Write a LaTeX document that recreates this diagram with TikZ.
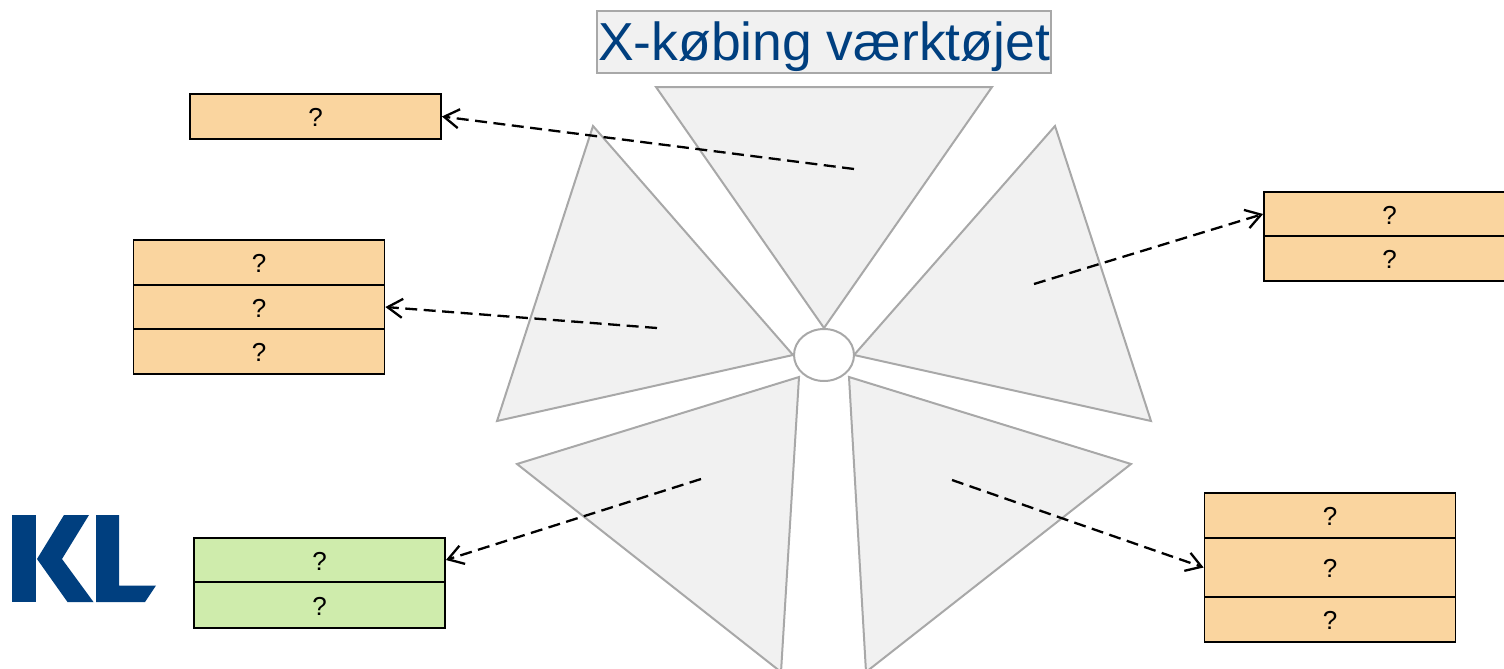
\documentclass[tikz,border=0pt]{standalone}
\usepackage{fontspec}
\setmainfont{Liberation Sans}
\usetikzlibrary{arrows.meta,shapes.geometric}
\definecolor{klblue}{HTML}{003F7F}
\definecolor{bladegray}{HTML}{F1F1F1}
\definecolor{edgegray}{HTML}{A8A8A8}
\definecolor{roworange}{HTML}{FAD59F}
\definecolor{rowgreen}{HTML}{CFECAC}
\newcommand{\qmark}{\raisebox{-10pt}[0pt][0pt]{?}}
\tikzset{
blade/.style={draw=edgegray,fill=bladegray,line width=2pt,line join=miter},
orangerow/.style={draw=black,fill=roworange,line width=1.8pt,minimum width=251,inner sep=0pt,font=\fontsize{26}{28}\selectfont},
greenrow/.style={orangerow,fill=rowgreen},
pointer/.style={draw=black,line width=2.3pt,dash pattern=on 12pt off 6.5pt,-{Straight Barb[length=15pt,width=19pt,line width=2.3pt]}},
}
\begin{document}
\begin{tikzpicture}[x=1pt,y=-1pt]
\useasboundingbox (0,0) rectangle (1504,669);
\path[blade] (656,87) -- (992,87) -- (824,328) -- cycle;
\path[blade] (1055,126) -- (1151,421) -- (854,355) -- cycle;
\path[blade] (593,126) -- (497,421) -- (793,355) -- cycle;
\path[blade] (517,464) -- (799,377) -- (781,672) -- cycle;
\path[blade] (1131,464) -- (849,377) -- (866,672) -- cycle;
\node[draw=edgegray,fill=white,ellipse,line width=2pt,inner sep=0pt,minimum width=60,minimum height=52] (hub) at (824,355) {};
\node[draw=edgegray,fill=bladegray,line width=2pt,inner sep=0pt,minimum width=454,minimum height=62,text=klblue,font=\fontsize{53.5}{56}\selectfont] (title) at (824,42) {\raisebox{-19pt}[0pt][0pt]{X-købing værktøjet}};

\node[orangerow,minimum height=45] (a1) at (315.5,116.5) {\qmark};
\node[orangerow,minimum height=45] (b1) at (259,262.5) {\qmark};
\node[orangerow,minimum height=44] (b2) at (259,307) {\qmark};
\node[orangerow,minimum height=45] (b3) at (259,351.5) {\qmark};
\node[orangerow,minimum height=44] (c1) at (1389.5,214) {\qmark};
\node[orangerow,minimum height=45] (c2) at (1389.5,258.5) {\qmark};
\node[orangerow,minimum height=45] (d1) at (1330,515.5) {\qmark};
\node[orangerow,minimum height=59] (d2) at (1330,567.5) {\qmark};
\node[orangerow,minimum height=45] (d3) at (1330,619.5) {\qmark};
\node[greenrow,minimum height=44] (e1) at (319.5,560) {\qmark};
\node[greenrow,minimum height=46] (e2) at (319.5,605) {\qmark};

\coordinate (top) at (854,169);
\coordinate (left) at (657,328);
\coordinate (right) at (1034,284);
\coordinate (lowleft) at (701,479);
\coordinate (lowright) at (952,480);
\path[pointer] (top) -- (a1.east);
\path[pointer] (left) -- (b2.east);
\path[pointer] (right) -- (c1.west);
\path[pointer] (lowleft) -- (e1.east);
\path[pointer] (lowright) -- (d2.west);

\fill[klblue] (12,515) -- (35.5,515) -- (35.5,602) -- (12,602) -- cycle;
\fill[klblue] (64,515) -- (89,515) -- (62,559) -- (93.5,602) -- (67.5,602) -- (37,559) -- cycle;
\fill[klblue] (96,515) -- (119,515) -- (119,585.5) -- (156,585.5) -- (145,602) -- (96,602) -- cycle;
\end{tikzpicture}
\end{document}
